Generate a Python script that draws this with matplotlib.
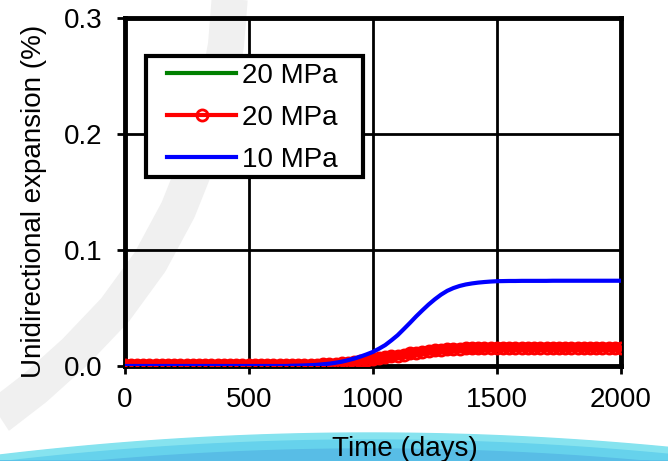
import numpy as np
import matplotlib.pyplot as plt
from matplotlib.patches import Rectangle

plt.rcParams['font.family'] = ['Liberation Sans', 'DejaVu Sans']

# data (step 25 days)
days = np.arange(0, 2001, 25)

blue_10mpa = [0.0] * 27 + [
    0.0002, 0.0003, 0.0005, 0.0007, 0.0010, 0.0015, 0.0020, 0.0028, 0.0037, 0.0050,
    0.0064, 0.0081, 0.0100, 0.0121, 0.0149, 0.0180, 0.0221, 0.0265, 0.0318, 0.0372,
    0.0428, 0.0480, 0.0530, 0.0575, 0.0615, 0.0648, 0.0672, 0.0690, 0.0703, 0.0712,
    0.0719, 0.0724, 0.0728, 0.0731, 0.0732, 0.0733, 0.0733, 0.0734, 0.0734, 0.0734,
    0.0734, 0.0734, 0.0735, 0.0735, 0.0735, 0.0735, 0.0735, 0.0735, 0.0735, 0.0735,
    0.0735, 0.0735, 0.0735, 0.0735]

red_20mpa = [0.0008] * 29 + [
    0.0009, 0.0010, 0.0012, 0.0014, 0.0017, 0.0020, 0.0024, 0.0029, 0.0035, 0.0042,
    0.0050, 0.0058, 0.0066, 0.0074, 0.0082, 0.0090, 0.0099, 0.0108, 0.0116, 0.0124,
    0.0130, 0.0135, 0.0140, 0.0144, 0.0147, 0.0150, 0.0152, 0.0154, 0.0155, 0.0156,
    0.0157, 0.0158] + [0.0158] * 20

green_20mpa = list(red_20mpa)

x_ticks = [0, 500, 1000, 1500, 2000]
y_ticks = [0.0, 0.1, 0.2, 0.3]

W, H = 668, 461
fig = plt.figure(figsize=(W / 100, H / 100), dpi=100)

# background watermark (pixel coordinates)
bg = fig.add_axes([0, 0, 1, 1], zorder=0)
bg.set_xlim(0, W)
bg.set_ylim(H, 0)
bg.axis('off')
arc_x = [230, 226, 216, 200, 178, 150, 115, 75, 35, 0, -20]
arc_y = [-5, 45, 100, 155, 210, 262, 310, 352, 388, 415, 428]
bg.plot(arc_x, arc_y, color='#f0f0f0', lw=26, solid_capstyle='butt')
sw_x = np.linspace(0, W, 60)
sw_top = 433 + 22 * ((sw_x - 370) / 370) ** 2
bg.fill_between(sw_x, sw_top, H, color='#86e3ef')
bg.fill_between(sw_x, sw_top + 7, H, color='#66d2ec')
bg.fill_between(sw_x, sw_top + 16, H, color='#58bde6')

ax = fig.add_axes([124.5 / W, 1 - 366 / H, 496.5 / W, 348 / H], zorder=1)
ax.patch.set_alpha(0)

ax.plot(days, green_20mpa, color='#008000', lw=3, label='20 MPa', zorder=3)
ax.plot(days, red_20mpa, color='red', lw=7, zorder=4)
ax.plot(days, red_20mpa, color='red', lw=3, marker='o', ms=8, mfc='none',
        mec='red', mew=2, label='20 MPa', zorder=4)
ax.plot(days, blue_10mpa, color='blue', lw=3, label='10 MPa', zorder=5)

ax.set_xlim(0, 2000)
ax.set_ylim(0, 0.3)
ax.set_xticks(x_ticks)
ax.set_yticks(y_ticks)
ax.set_yticklabels([f'{v:.1f}' for v in y_ticks])
ax.grid(True, color='black', lw=2)
ax.set_axisbelow(True)
for s in ax.spines.values():
    s.set_linewidth(3.5)
ax.tick_params(axis='both', direction='out', length=6, width=2, labelsize=20)
ax.tick_params(axis='x', pad=9)
ax.tick_params(axis='y', pad=10)

ax.set_xlabel('Time (days)', fontsize=20)
ax.set_ylabel('Unidirectional expansion (%)', fontsize=20)
ax.xaxis.set_label_coords(0.565, -0.2)
ax.yaxis.set_label_coords(-0.156, 0.474)

# legend box drawn by hand, entries from the legend
box = Rectangle((146 / W, 1 - 177 / H), 217 / W, 121 / H, transform=fig.transFigure,
                facecolor='white', edgecolor='black', lw=3, zorder=9, clip_on=False)
ax.add_patch(box)
leg = ax.legend(loc='upper left', bbox_to_anchor=(167 / W, 1 - 63 / H),
                bbox_transform=fig.transFigure, borderaxespad=0, borderpad=0,
                fontsize=20, frameon=False, handlelength=2.5, handletextpad=0.2,
                labelspacing=0.57)
leg.set_zorder(10)

fig.savefig('out.png', dpi=100)
